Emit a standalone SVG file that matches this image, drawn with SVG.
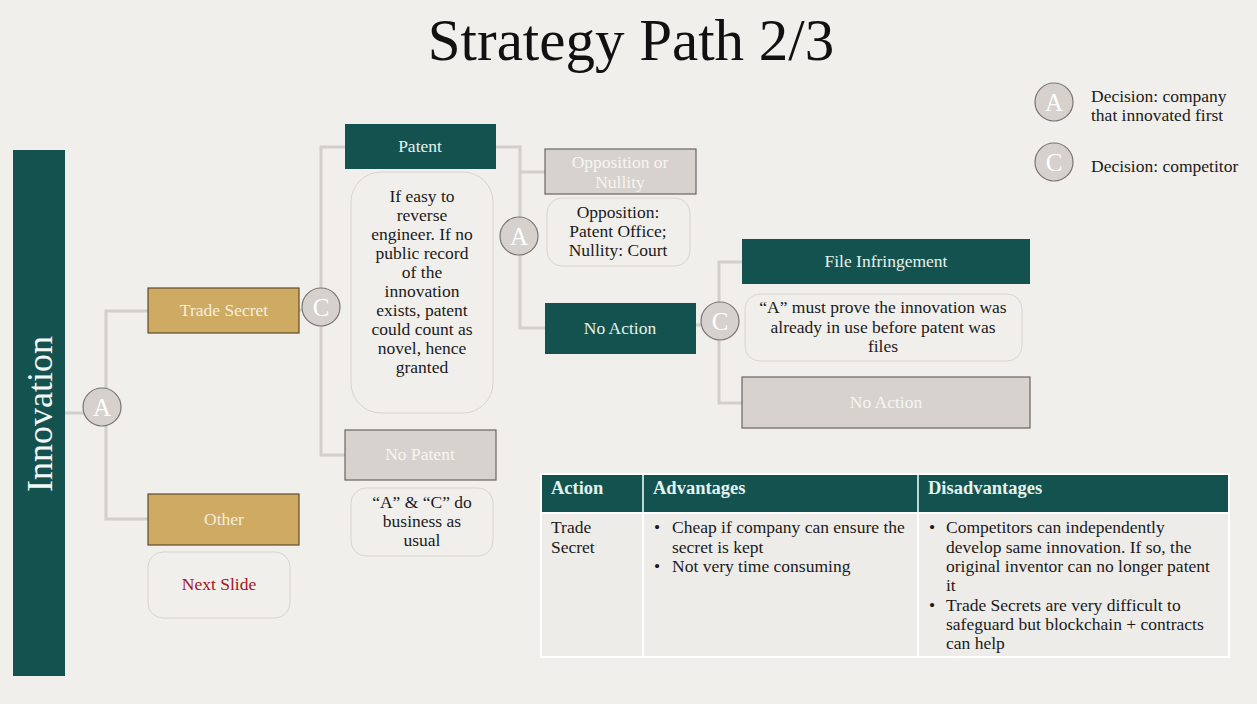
<svg xmlns="http://www.w3.org/2000/svg" width="1257" height="704" viewBox="0 0 1257 704">
<style>
text{font-family:"Liberation Serif","Times New Roman",serif}
.ln{fill:none;stroke:#D3CFCA;stroke-width:3}
.teal{fill:#14524F}
.gold{fill:#CFAA63;stroke:#5E4C2E;stroke-width:1.2}
.gray{fill:#D7D2CD;stroke:#6A6560;stroke-width:1.2}
.note{fill:#F1EFEB;stroke:#D8D4CF;stroke-width:1}
.dc{fill:#D6D1CC;stroke:#7A7570;stroke-width:1.2}
.dt{fill:#fff;font-size:25px;text-anchor:middle}
.lw{fill:#F4EEDF;font-size:17.5px;text-anchor:middle}
.lt{fill:#E6F2EE;font-size:17.5px;text-anchor:middle}
.lg{fill:#F7F5F2;font-size:17.5px;text-anchor:middle}
.nt{fill:#1A1A1A;font-size:17.5px;text-anchor:middle}
.tb{fill:#1A1A1A;font-size:17.5px}
.th{fill:#E4F2EE;font-size:18.5px;font-weight:bold}
</style>
<rect width="1257" height="704" fill="#F1EFEB"/>
<text x="631" y="60" font-size="59" text-anchor="middle" fill="#111">Strategy Path 2/3</text>

<g id="connectors">
<polyline class="ln" points="65,413 90,413"/>
<polyline class="ln" points="148,311 106,311 106,519 148,519"/>
<polyline class="ln" points="345,147 321,147 321,455 345,455"/>
<polyline class="ln" points="299,310 305,310"/>
<polyline class="ln" points="496,147 520,147 520,328 545,328"/>
<polyline class="ln" points="520,172 545,172"/>
<polyline class="ln" points="696,325 705,325"/>
<polyline class="ln" points="742,262 719,262 719,403 742,403"/>
</g>

<g id="innovation">
<rect class="teal" x="13" y="150" width="52" height="526"/>
<text transform="translate(52,414) rotate(-90)" font-size="36" fill="#F2F6F4" text-anchor="middle">Innovation</text>
</g>

<g id="decisionA1"><circle class="dc" cx="102" cy="407" r="19"/><text class="dt" x="102" y="416">A</text></g>
<g id="tradeSecret"><rect class="gold" x="148" y="288" width="151" height="45"/><text class="lw" x="224" y="316">Trade Secret</text></g>
<g id="other"><rect class="gold" x="148" y="494" width="151" height="51"/><text class="lw" x="224" y="525">Other</text></g>
<g id="nextSlide"><rect class="note" x="148" y="552" width="142" height="66" rx="15"/><text x="219" y="590" font-size="17.5" fill="#A3121C" text-anchor="middle">Next Slide</text></g>

<g id="decisionC1"><circle class="dc" cx="321" cy="307" r="19"/><text class="dt" x="321" y="316">C</text></g>
<g id="patent"><rect class="teal" x="345" y="124" width="151" height="45"/><text class="lt" x="420" y="152">Patent</text></g>
<g id="patentNote"><rect class="note" x="351" y="172" width="142" height="241" rx="30"/>
<text class="nt" x="422"><tspan x="422" y="202">If easy to</tspan><tspan x="422" y="221">reverse</tspan><tspan x="422" y="240">engineer. If no</tspan><tspan x="422" y="259">public record</tspan><tspan x="422" y="278">of the</tspan><tspan x="422" y="297">innovation</tspan><tspan x="422" y="316">exists, patent</tspan><tspan x="422" y="335">could count as</tspan><tspan x="422" y="354">novel, hence</tspan><tspan x="422" y="373">granted</tspan></text></g>
<g id="noPatent"><rect class="gray" x="345" y="430" width="151" height="50"/><text class="lg" x="420" y="460">No Patent</text></g>
<g id="noPatentNote"><rect class="note" x="351" y="488" width="142" height="68" rx="15"/>
<text class="nt"><tspan x="422" y="508">“A” &amp; “C” do</tspan><tspan x="422" y="527">business as</tspan><tspan x="422" y="546">usual</tspan></text></g>

<g id="decisionA2"><circle class="dc" cx="519" cy="236" r="19"/><text class="dt" x="519" y="245">A</text></g>
<g id="opposition"><rect class="gray" x="545" y="149" width="151" height="45"/><text class="lg"><tspan x="620" y="168">Opposition or</tspan><tspan x="620" y="188">Nullity</tspan></text></g>
<g id="oppositionNote"><rect class="note" x="547" y="198" width="143" height="68" rx="15"/>
<text class="nt"><tspan x="618" y="218">Opposition:</tspan><tspan x="618" y="237">Patent Office;</tspan><tspan x="618" y="256">Nullity: Court</tspan></text></g>
<g id="noAction1"><rect class="teal" x="545" y="303" width="151" height="51"/><text class="lt" x="620" y="334">No Action</text></g>

<g id="decisionC2"><circle class="dc" cx="720" cy="321" r="19"/><text class="dt" x="720" y="330">C</text></g>
<g id="fileInfringement"><rect class="teal" x="742" y="239" width="288" height="45"/><text class="lt" x="886" y="267">File Infringement</text></g>
<g id="infringementNote"><rect class="note" x="745" y="294" width="277" height="67" rx="15"/>
<text class="nt"><tspan x="883" y="313">“A” must prove the innovation was</tspan><tspan x="883" y="333">already in use before patent was</tspan><tspan x="883" y="352">files</tspan></text></g>
<g id="noAction2"><rect class="gray" x="742" y="377" width="288" height="51"/><text class="lg" x="886" y="408">No Action</text></g>

<g id="legend">
<circle class="dc" cx="1054" cy="102" r="19"/><text class="dt" x="1054" y="111">A</text>
<text font-size="17.5" fill="#1A1A1A"><tspan x="1091" y="102">Decision: company</tspan><tspan x="1091" y="121">that innovated first</tspan></text>
<circle class="dc" cx="1054" cy="162" r="19"/><text class="dt" x="1054" y="171">C</text>
<text x="1091" y="172" font-size="17.5" fill="#1A1A1A">Decision: competitor</text>
</g>

<g id="table">
<rect x="541" y="474" width="688" height="183" fill="#EEECE9"/>
<rect class="teal" x="541" y="474" width="688" height="38"/>
<line x1="643" y1="474" x2="643" y2="512" stroke="#B9D6D8" stroke-width="2"/>
<line x1="918" y1="474" x2="918" y2="512" stroke="#B9D6D8" stroke-width="2"/>
<line x1="643" y1="512" x2="643" y2="657" stroke="#FFFFFF" stroke-width="2"/>
<line x1="918" y1="512" x2="918" y2="657" stroke="#FFFFFF" stroke-width="2"/>
<line x1="541" y1="513" x2="1229" y2="513" stroke="#FFFFFF" stroke-width="2"/>
<rect x="541" y="474" width="688" height="183" fill="none" stroke="#FFFFFF" stroke-width="2"/>
<text class="th" x="551" y="494">Action</text>
<text class="th" x="653" y="494">Advantages</text>
<text class="th" x="928" y="494">Disadvantages</text>
<text class="tb"><tspan x="551" y="533">Trade</tspan><tspan x="551" y="553">Secret</tspan></text>
<text class="tb"><tspan x="654" y="533">•</tspan><tspan x="654" y="572">•</tspan></text>
<text class="tb"><tspan x="672" y="533">Cheap if company can ensure the</tspan><tspan x="672" y="553">secret is kept</tspan><tspan x="672" y="572">Not very time consuming</tspan></text>
<text class="tb"><tspan x="929" y="533">•</tspan><tspan x="929" y="611">•</tspan></text>
<text class="tb"><tspan x="946" y="533">Competitors can independently</tspan><tspan x="946" y="553">develop same innovation. If so, the</tspan><tspan x="946" y="572">original inventor can no longer patent</tspan><tspan x="946" y="591">it</tspan><tspan x="946" y="611">Trade Secrets are very difficult to</tspan><tspan x="946" y="630">safeguard but blockchain + contracts</tspan><tspan x="946" y="649">can help</tspan></text>
</g>
</svg>
